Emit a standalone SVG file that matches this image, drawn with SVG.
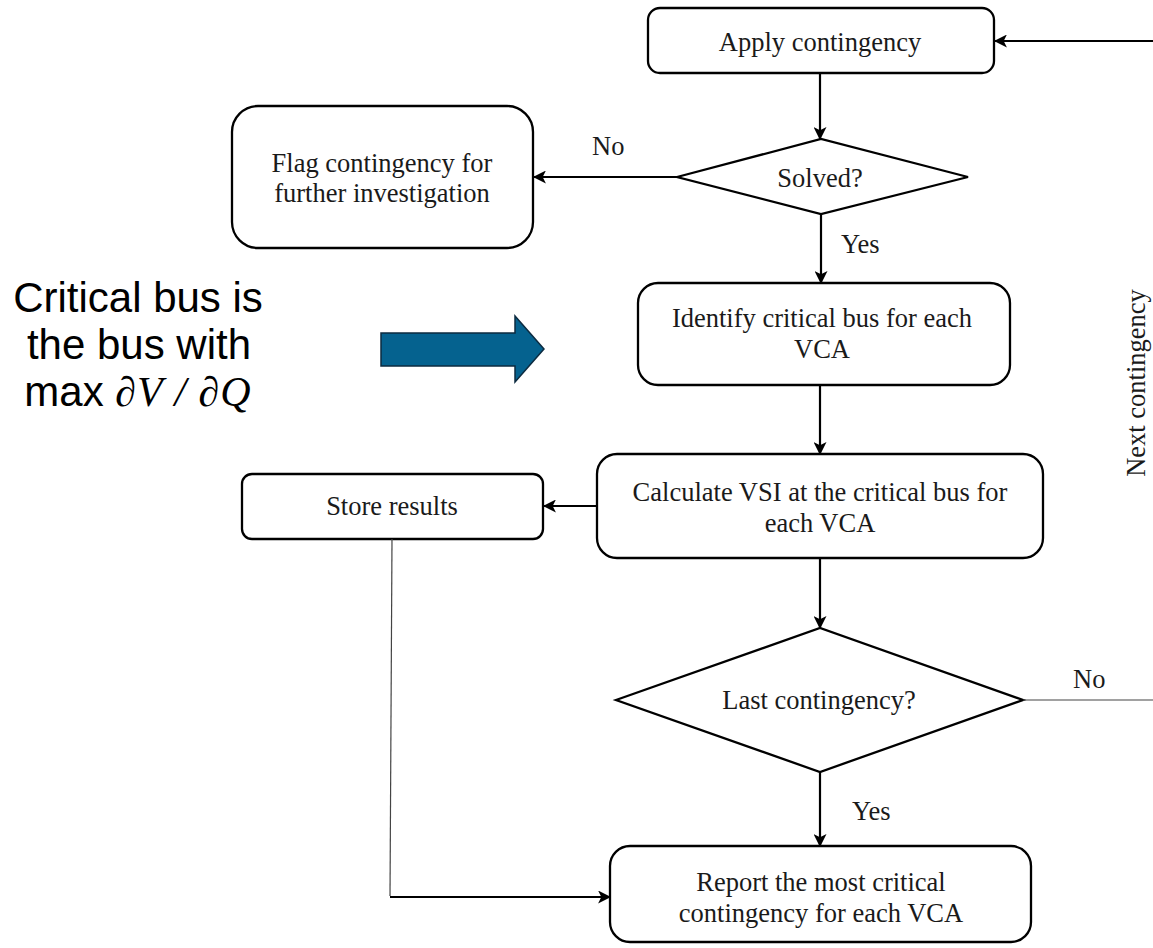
<svg xmlns="http://www.w3.org/2000/svg" width="1153" height="948" viewBox="0 0 1153 948">
<style>
.box{fill:#fff;stroke:#000;stroke-width:2.3}
.t{font-family:"Liberation Serif","Times New Roman",serif;font-size:26.5px;fill:#1a1a1a;text-anchor:middle}
.lbl{font-family:"Liberation Serif","Times New Roman",serif;font-size:26.5px;fill:#1a1a1a}
.c{fill:none;stroke:#000;stroke-width:2.2}
.thin{fill:none;stroke:#444;stroke-width:1.2}
.big{font-family:"Liberation Sans",Arial,sans-serif;font-size:42px;fill:#000;text-anchor:middle}
</style>
<defs>
<marker id="ah" viewBox="0 0 12 12" refX="11" refY="6" markerWidth="13" markerHeight="13" markerUnits="userSpaceOnUse" orient="auto">
<path d="M0,0 L12,6 L0,12 L3,6 Z" fill="#000"/>
</marker>
</defs>
<rect width="1153" height="948" fill="#fff"/>

<g id="apply">
<rect class="box" x="648" y="8" width="346" height="65" rx="12"/>
<text class="t" x="820" y="51">Apply contingency</text>
</g>
<g id="solved">
<polygon class="box" points="677,177 821,139 968,177 821,214"/>
<text class="t" x="820" y="187">Solved?</text>
</g>
<g id="flag">
<rect class="box" x="232" y="106" width="301" height="142" rx="26"/>
<text class="t" x="382" y="172">Flag contingency for</text>
<text class="t" x="382" y="202">further investigation</text>
</g>
<g id="identify">
<rect class="box" x="638" y="283" width="372" height="102" rx="20"/>
<text class="t" x="822" y="327">Identify critical bus for each</text>
<text class="t" x="822" y="358">VCA</text>
</g>
<g id="calculate">
<rect class="box" x="597" y="454" width="446" height="104" rx="20"/>
<text class="t" x="820" y="501">Calculate VSI at the critical bus for</text>
<text class="t" x="820" y="532">each VCA</text>
</g>
<g id="store">
<rect class="box" x="242" y="474" width="301" height="65" rx="10"/>
<text class="t" x="392" y="515">Store results</text>
</g>
<g id="last">
<polygon class="box" points="616,700 820,628 1023,700 820,772"/>
<text class="t" x="819" y="709">Last contingency?</text>
</g>
<g id="report">
<rect class="box" x="610" y="846" width="421" height="96" rx="20"/>
<text class="t" x="821" y="891">Report the most critical</text>
<text class="t" x="821" y="922">contingency for each VCA</text>
</g>

<g id="note">
<text class="big" x="138" y="312">Critical bus is</text>
<text class="big" x="139" y="359">the bus with</text>
<text class="big" x="138" y="406">max <tspan font-family="'Liberation Serif','Times New Roman',serif" font-style="italic" letter-spacing="1">∂V / ∂Q</tspan></text>
<polygon points="381,333 515,333 515,316 544,349 515,382 515,366 381,366" fill="#05628f" stroke="#0d2b40" stroke-width="1.5"/>
</g>

<g id="connectors">
<line class="c" x1="1153" y1="41" x2="995" y2="41" marker-end="url(#ah)"/>
<line class="c" x1="820" y1="73" x2="820" y2="139" marker-end="url(#ah)"/>
<line class="c" x1="677" y1="177" x2="534" y2="177" marker-end="url(#ah)"/>
<line class="c" x1="821" y1="214" x2="821" y2="283" marker-end="url(#ah)"/>
<line class="c" x1="820" y1="385" x2="820" y2="454" marker-end="url(#ah)"/>
<line class="c" x1="597" y1="506" x2="544" y2="506" marker-end="url(#ah)"/>
<line class="c" x1="820" y1="558" x2="820" y2="628" marker-end="url(#ah)"/>
<line class="c" x1="820" y1="772" x2="820" y2="846" marker-end="url(#ah)"/>
<line class="thin" x1="392" y1="539" x2="390" y2="896"/>
<line class="c" x1="390" y1="897" x2="610" y2="897" stroke-width="2.5" marker-end="url(#ah)"/>
<line class="thin" x1="1023" y1="700" x2="1153" y2="700"/>
<text class="lbl" x="592" y="155">No</text>
<text class="lbl" x="841" y="253">Yes</text>
<text class="lbl" x="1073" y="688">No</text>
<text class="lbl" x="852" y="820">Yes</text>
<text class="lbl" font-size="31" text-anchor="middle" transform="translate(1145,383) rotate(-90)">Next contingency</text>
</g>
</svg>
